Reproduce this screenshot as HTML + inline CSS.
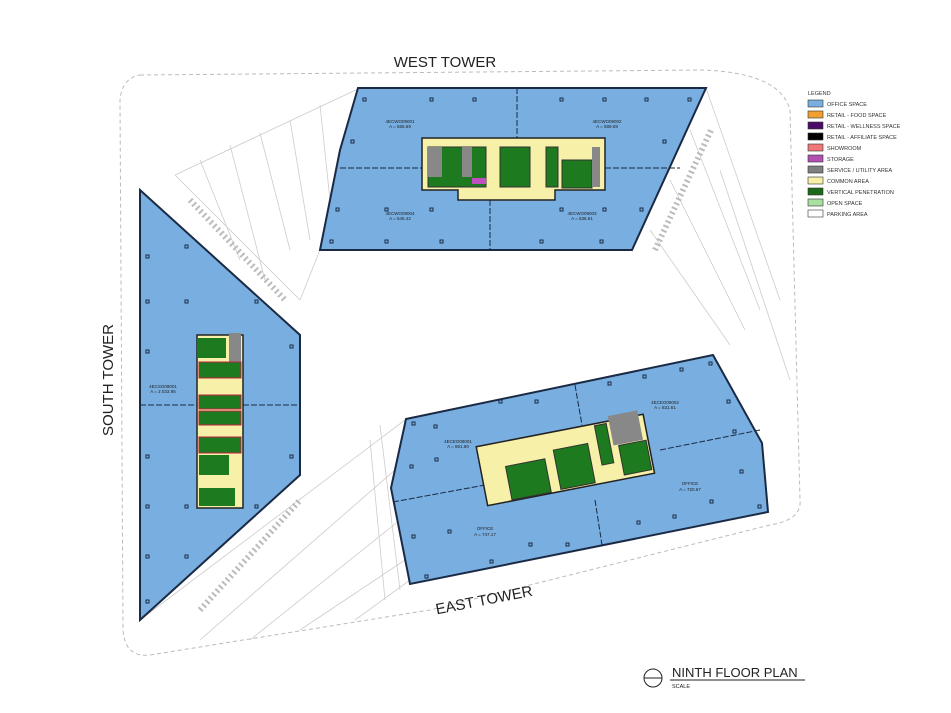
<!DOCTYPE html>
<html><head><meta charset="utf-8"><style>
html,body{margin:0;padding:0;background:#fff;}
svg{display:block;font-family:"Liberation Sans",sans-serif;}
</style></head><body>
<svg width="951" height="713" viewBox="0 0 951 713" xmlns="http://www.w3.org/2000/svg">
<rect width="951" height="713" fill="#fff"/>
<path d="M140 75 L700 70 Q780 72 790 110 L800 500 Q802 520 770 525 L430 610 L150 655 Q125 658 123 630 L120 100 Q122 78 140 75 Z" fill="none" stroke="#bbb" stroke-dasharray="4 3" stroke-width="1"/>
<g stroke="#ccc" stroke-width="0.8" fill="none">
<path d="M175 175 L360 88 M175 175 L300 300 M300 300 L320 250"/>
<path d="M200 160 L240 260 M230 145 L265 280 M260 133 L290 250 M290 120 L310 240 M320 105 L330 200"/>
<path d="M706 88 L780 300 M690 130 L760 310 M670 180 L745 330 M650 230 L730 345 M720 170 L790 380"/>
<path d="M140 620 L405 420 M200 640 L395 470 M250 640 L400 520 M300 630 L405 560 M355 620 L410 580"/>
<path d="M380 425 L400 590 M370 440 L385 600"/>
</g>
<g fill="none" stroke="#bbb" stroke-width="6" stroke-dasharray="2 3">
<line x1="190" y1="200" x2="285" y2="300"/>
<line x1="200" y1="610" x2="300" y2="500"/>
<line x1="655" y1="250" x2="712" y2="128"/>
</g>
<!-- West tower -->
<polygon points="358,88 706,88 632,250 320,250 340,150" fill="#78aee0" stroke="#1b2a44" stroke-width="2"/>
<g stroke="#1b2a44" stroke-width="1" stroke-dasharray="6 2"><line x1="517" y1="88" x2="517" y2="138"/><line x1="490" y1="200" x2="490" y2="250"/><line x1="340" y1="168" x2="422" y2="168"/><line x1="605" y1="168" x2="680" y2="168"/></g>
<g fill="none" stroke="#1b2a44" stroke-width="1">
<rect x="363" y="98" width="3" height="3"/><rect x="430" y="98" width="3" height="3"/><rect x="473" y="98" width="3" height="3"/><rect x="560" y="98" width="3" height="3"/><rect x="603" y="98" width="3" height="3"/><rect x="645" y="98" width="3" height="3"/><rect x="688" y="98" width="3" height="3"/>
<rect x="351" y="140" width="3" height="3"/><rect x="663" y="140" width="3" height="3"/>
<rect x="336" y="208" width="3" height="3"/><rect x="385" y="208" width="3" height="3"/><rect x="430" y="208" width="3" height="3"/><rect x="560" y="208" width="3" height="3"/><rect x="603" y="208" width="3" height="3"/><rect x="640" y="208" width="3" height="3"/>
<rect x="330" y="240" width="3" height="3"/><rect x="385" y="240" width="3" height="3"/><rect x="440" y="240" width="3" height="3"/><rect x="540" y="240" width="3" height="3"/><rect x="600" y="240" width="3" height="3"/>
</g>
<path d="M422 138 H605 V190 H555 V200 H458 V190 H422 Z" fill="#f6f0a8" stroke="#222" stroke-width="1.5"/>
<rect x="428" y="147" width="58" height="40" fill="#1e7a1e" stroke="#333"/>
<rect x="428" y="147" width="14" height="30" fill="#888"/>
<rect x="462" y="147" width="10" height="30" fill="#888"/>
<rect x="500" y="147" width="30" height="40" fill="#1e7a1e" stroke="#333"/>
<rect x="546" y="147" width="12" height="40" fill="#1e7a1e" stroke="#333"/>
<rect x="562" y="160" width="30" height="28" fill="#1e7a1e" stroke="#333"/>
<rect x="592" y="147" width="8" height="40" fill="#888"/>
<rect x="472" y="178" width="14" height="6" fill="#c050c0"/>
<!-- South tower -->
<polygon points="140,190 300,335 300,475 140,620" fill="#78aee0" stroke="#1b2a44" stroke-width="2"/>
<g stroke="#1b2a44" stroke-width="1" stroke-dasharray="6 2"><line x1="140" y1="405" x2="197" y2="405"/><line x1="243" y1="405" x2="300" y2="405"/></g>
<g fill="none" stroke="#1b2a44" stroke-width="1">
<rect x="146" y="255" width="3" height="3"/><rect x="185" y="245" width="3" height="3"/><rect x="146" y="300" width="3" height="3"/><rect x="185" y="300" width="3" height="3"/><rect x="255" y="300" width="3" height="3"/>
<rect x="146" y="350" width="3" height="3"/><rect x="290" y="345" width="3" height="3"/><rect x="146" y="455" width="3" height="3"/><rect x="290" y="455" width="3" height="3"/>
<rect x="146" y="505" width="3" height="3"/><rect x="185" y="505" width="3" height="3"/><rect x="255" y="505" width="3" height="3"/><rect x="146" y="555" width="3" height="3"/><rect x="185" y="555" width="3" height="3"/><rect x="146" y="600" width="3" height="3"/>
</g>
<rect x="197" y="335" width="46" height="173" fill="#f6f0a8" stroke="#222" stroke-width="1.5"/>
<rect x="198" y="338" width="28" height="20" fill="#1e7a1e"/><rect x="229" y="333" width="12" height="30" fill="#888"/>
<rect x="199" y="362" width="42" height="16" fill="#1e7a1e" stroke="#c02040"/>
<rect x="199" y="395" width="42" height="14" fill="#1e7a1e" stroke="#c02040"/>
<rect x="199" y="411" width="42" height="14" fill="#1e7a1e" stroke="#c02040"/>
<rect x="199" y="437" width="42" height="16" fill="#1e7a1e" stroke="#c02040"/>
<rect x="199" y="455" width="30" height="20" fill="#1e7a1e"/>
<rect x="199" y="488" width="36" height="18" fill="#1e7a1e"/>
<!-- East tower -->
<polygon points="406,419 713,355 762,443 768,512 410,584 391,488" fill="#78aee0" stroke="#1b2a44" stroke-width="2"/>
<g stroke="#1b2a44" stroke-width="1" stroke-dasharray="6 2"><line x1="575" y1="385" x2="582" y2="425"/><line x1="595" y1="500" x2="602" y2="545"/><line x1="393" y1="502" x2="485" y2="485"/><line x1="660" y1="450" x2="760" y2="430"/></g>
<g fill="none" stroke="#1b2a44" stroke-width="1">
<rect x="412" y="422" width="3" height="3"/><rect x="434" y="425" width="3" height="3"/><rect x="499" y="400" width="3" height="3"/><rect x="535" y="400" width="3" height="3"/><rect x="608" y="382" width="3" height="3"/><rect x="643" y="375" width="3" height="3"/><rect x="680" y="368" width="3" height="3"/><rect x="709" y="362" width="3" height="3"/>
<rect x="410" y="465" width="3" height="3"/><rect x="435" y="458" width="3" height="3"/><rect x="727" y="400" width="3" height="3"/><rect x="733" y="430" width="3" height="3"/>
<rect x="412" y="535" width="3" height="3"/><rect x="448" y="530" width="3" height="3"/><rect x="425" y="575" width="3" height="3"/><rect x="490" y="560" width="3" height="3"/><rect x="529" y="543" width="3" height="3"/><rect x="566" y="543" width="3" height="3"/><rect x="637" y="521" width="3" height="3"/><rect x="673" y="515" width="3" height="3"/><rect x="710" y="500" width="3" height="3"/><rect x="758" y="505" width="3" height="3"/><rect x="740" y="470" width="3" height="3"/>
</g>
<g transform="rotate(-11 565 458)">
<rect x="480" y="430" width="170" height="60" fill="#f6f0a8" stroke="#222" stroke-width="1.5"/>
<rect x="505" y="455" width="40" height="34" fill="#1e7a1e" stroke="#333"/>
<rect x="555" y="448" width="35" height="40" fill="#1e7a1e" stroke="#333"/>
<rect x="600" y="432" width="12" height="40" fill="#1e7a1e" stroke="#333"/>
<rect x="615" y="425" width="30" height="30" fill="#888"/>
<rect x="620" y="456" width="28" height="30" fill="#1e7a1e" stroke="#333"/>
</g>
<g font-size="4.5" fill="#222" text-anchor="middle">
<text x="400" y="123">4ECWO09001</text><text x="400" y="128">A = 568.69</text>
<text x="607" y="123">4ECWO09002</text><text x="607" y="128">A = 589.08</text>
<text x="400" y="215">4ECWO09004</text><text x="400" y="220">A = 645.42</text>
<text x="582" y="215">4ECWO09003</text><text x="582" y="220">A = 636.61</text>
<text x="163" y="388">4ECSO09001</text><text x="163" y="393">A = 2 033.95</text>
<text x="458" y="443">4ECEO09001</text><text x="458" y="448">A = 861.90</text>
<text x="665" y="404">4ECEO09002</text><text x="665" y="409">A = 831.61</text>
<text x="690" y="485">OFFICE</text><text x="690" y="491">A = 720.67</text>
<text x="485" y="530">OFFICE</text><text x="485" y="536">A = 747.17</text>
</g>
<text x="445" y="67" font-size="15" text-anchor="middle" fill="#222">WEST TOWER</text>
<text transform="translate(113 380) rotate(-90)" font-size="15" text-anchor="middle" fill="#222">SOUTH  TOWER</text>
<text transform="translate(485 605) rotate(-11)" font-size="15" text-anchor="middle" fill="#222">EAST TOWER</text>
<g font-size="5.5" fill="#333">
<text x="808" y="95">LEGEND</text>
<g stroke="#333" stroke-width="0.6">
<rect x="808" y="100" width="15" height="7" fill="#78aee0"/>
<rect x="808" y="111" width="15" height="7" fill="#f0a030"/>
<rect x="808" y="122" width="15" height="7" fill="#4a0a6a"/>
<rect x="808" y="133" width="15" height="7" fill="#000"/>
<rect x="808" y="144" width="15" height="7" fill="#f07878"/>
<rect x="808" y="155" width="15" height="7" fill="#b050b0"/>
<rect x="808" y="166" width="15" height="7" fill="#808080"/>
<rect x="808" y="177" width="15" height="7" fill="#f6f0a8"/>
<rect x="808" y="188" width="15" height="7" fill="#1a6a1a"/>
<rect x="808" y="199" width="15" height="7" fill="#a8e0a0"/>
<rect x="808" y="210" width="15" height="7" fill="#fff"/>
</g>
<text x="827" y="106">OFFICE SPACE</text>
<text x="827" y="117">RETAIL - FOOD SPACE</text>
<text x="827" y="128">RETAIL - WELLNESS SPACE</text>
<text x="827" y="139">RETAIL - AFFILIATE SPACE</text>
<text x="827" y="150">SHOWROOM</text>
<text x="827" y="161">STORAGE</text>
<text x="827" y="172">SERVICE / UTILITY AREA</text>
<text x="827" y="183">COMMON AREA</text>
<text x="827" y="194">VERTICAL PENETRATION</text>
<text x="827" y="205">OPEN SPACE</text>
<text x="827" y="216">PARKING AREA</text>
</g>
<circle cx="653" cy="678" r="9" fill="none" stroke="#222"/>
<line x1="644" y1="678" x2="662" y2="678" stroke="#222"/>
<text x="672" y="677" font-size="13" fill="#222">NINTH FLOOR PLAN</text>
<line x1="670" y1="680" x2="805" y2="680" stroke="#222"/>
<text x="672" y="688" font-size="5.5" fill="#222">SCALE</text>
</svg>
</body></html>
